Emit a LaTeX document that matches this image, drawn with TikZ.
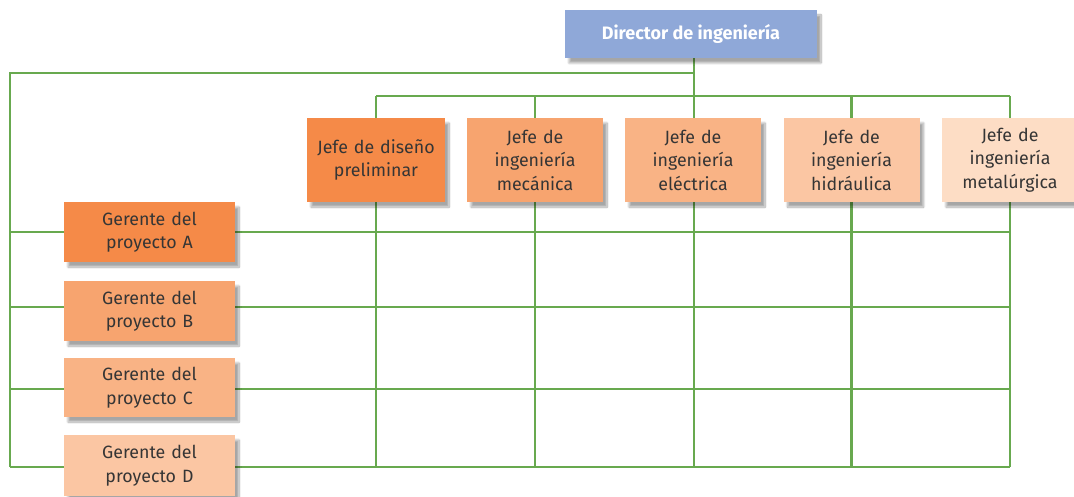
\documentclass[tikz,border=0pt]{standalone}
\usepackage{fontspec}
\setmainfont{Fira Sans}
\usetikzlibrary{shadows.blur,backgrounds}
\definecolor{lin}{HTML}{68A94F}
\definecolor{dirc}{HTML}{8FA8D8}
\definecolor{oa}{HTML}{F58A48}
\definecolor{ob}{HTML}{F7A46F}
\definecolor{oc}{HTML}{F9B385}
\definecolor{od}{HTML}{FBC6A3}
\definecolor{oe}{HTML}{FDDDC5}
\definecolor{txt}{HTML}{353535}
\begin{document}
\begin{tikzpicture}[x=1pt,y=-1pt,
  boxstyle/.style={inner sep=0pt, align=center, text=txt,
    font=\fontsize{17.8}{23.5}\selectfont,
    blur shadow={shadow xshift=4pt, shadow yshift=-5pt, shadow opacity=35, shadow blur steps=10}},
  jefe/.style={boxstyle, minimum width=136pt, minimum height=84pt, text width=136pt},
  ger/.style={boxstyle, minimum width=171pt, minimum height=60pt, text width=160pt},
  conn/.style={draw=lin, line width=2.3pt}]
\useasboundingbox (0,0) rectangle (1074,497);
% junction coordinates
\coordinate (tl) at (10,73);
\coordinate (tj) at (694,73);
\coordinate (bus) at (694,96);
\coordinate (rA) at (10,232);
\coordinate (rB) at (10,307);
\coordinate (rC) at (10,389);
\coordinate (rD) at (10,467);
\coordinate (eA) at (1010,232);
\coordinate (eB) at (1010,307);
\coordinate (eC) at (1010,389);
\coordinate (eD) at (1010,467);
% connectors first (behind boxes)
\draw[conn] (tj |- 0,58) -- (bus);
\draw[conn] (tj) -- (tl) -- (rD);
\draw[conn] (376,96) -- (1010,96);
\foreach \x in {376,535,694,851.5,1010}{
  \draw[conn] (\x,96) -- (\x,467);
}
\draw[conn] (rA) -- (eA);
\draw[conn] (rB) -- (eB);
\draw[conn] (rC) -- (eC);
\draw[conn] (rD) -- (eD);
% nodes
\node[boxstyle, fill=dirc, minimum width=252pt, minimum height=48pt, text=white,
  font=\fontsize{18}{20}\selectfont\bfseries] (dir) at (691,34) {Director de ingeniería};
\node[jefe, fill=oa, minimum width=138pt] (j1) at (376,160) {Jefe de diseño\\preliminar};
\node[jefe, fill=ob] (j2) at (535,160) {Jefe de\\ingeniería\\mecánica};
\node[jefe, fill=oc] (j3) at (693,160) {Jefe de\\ingeniería\\eléctrica};
\node[jefe, fill=od, minimum width=135pt] (j4) at (851.5,160) {Jefe de\\ingeniería\\hidráulica};
\node[jefe, fill=oe, minimum width=132pt] (j5) at (1010,160) {Jefe de\\ingeniería\\metalúrgica};
\node[ger, fill=oa] (ga) at (149.5,232) {Gerente del\\proyecto A};
\node[ger, fill=ob] (gb) at (149.5,311) {Gerente del\\proyecto B};
\node[ger, fill=oc, minimum height=59pt] (gc) at (149.5,387.5) {Gerente del\\proyecto C};
\node[ger, fill=od, minimum height=61pt] (gd) at (149.5,465.5) {Gerente del\\proyecto D};
\end{tikzpicture}
\end{document}
